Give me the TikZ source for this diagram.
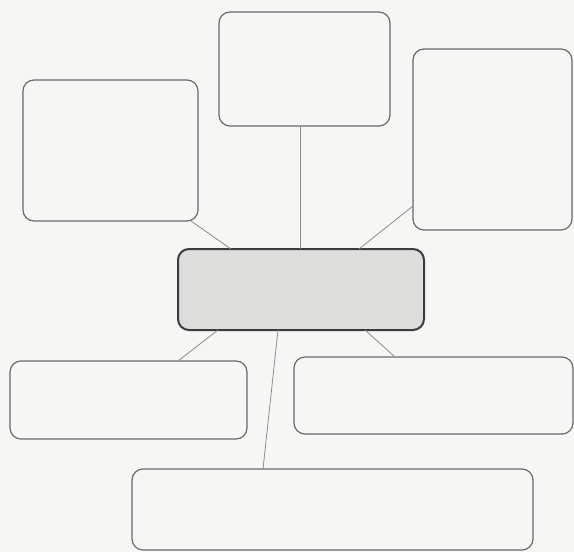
\documentclass[tikz,border=0pt]{standalone}
\usepackage{tikz}
\usepackage{xcolor}
\definecolor{PaperWhite}{HTML}{F6F6F4}
\definecolor{BoxEdge}{HTML}{6A6A6A}
\definecolor{HubEdge}{HTML}{3C3C3C}
\definecolor{HubFill}{HTML}{DDDDDB}
\definecolor{LinkGray}{HTML}{8C8C8C}

\begin{document}
\begin{tikzpicture}[x=1pt, y=-1pt,
  leaf/.style={draw=BoxEdge, line width=1.2pt, rounded corners=11pt, fill=PaperWhite,
               inner sep=0pt, outer sep=0pt},
  hub/.style={draw=HubEdge, line width=2pt, rounded corners=11pt, fill=HubFill,
              inner sep=0pt, outer sep=0pt, minimum width=246pt, minimum height=81pt},
  link/.style={draw=LinkGray, line width=0.8pt}
]
  \fill[PaperWhite] (0,0) rectangle (574,552);
  \useasboundingbox (0,0) rectangle (574,552);

  \node[hub]                                             (ctr) at (301,289.5) {};
  \node[leaf, minimum width=171pt, minimum height=114pt] (tp)  at (304.5,69)  {};
  \node[leaf, minimum width=175pt, minimum height=141pt] (lt)  at (110.5,150.5) {};
  \node[leaf, minimum width=159pt, minimum height=181pt] (rt)  at (492.5,139.5) {};
  \node[leaf, minimum width=237pt, minimum height=78pt]  (lb)  at (128.5,400)  {};
  \node[leaf, minimum width=279pt, minimum height=77pt]  (rb)  at (433.5,395.5) {};
  \node[leaf, minimum width=401pt, minimum height=81pt]  (bt)  at (332.5,509.5) {};

  \draw[link] ([xshift=-4pt]tp.south) -- ([xshift=-4pt]tp.south |- ctr.north);
  \draw[link] ([xshift=-7pt]lt.south east) -- ([xshift=53pt]ctr.north west);
  \draw[link] ([yshift=24pt]rt.south west) -- ([xshift=-65pt]ctr.north east);
  \draw[link] ([xshift=40pt]ctr.south west) -- ([xshift=168pt]lb.north west);
  \draw[link] ([xshift=-59pt]ctr.south east) -- ([xshift=101pt]rb.north west);
  \draw[link] ([xshift=100pt]ctr.south west) -- ([xshift=131pt]bt.north west);
\end{tikzpicture}
\end{document}
